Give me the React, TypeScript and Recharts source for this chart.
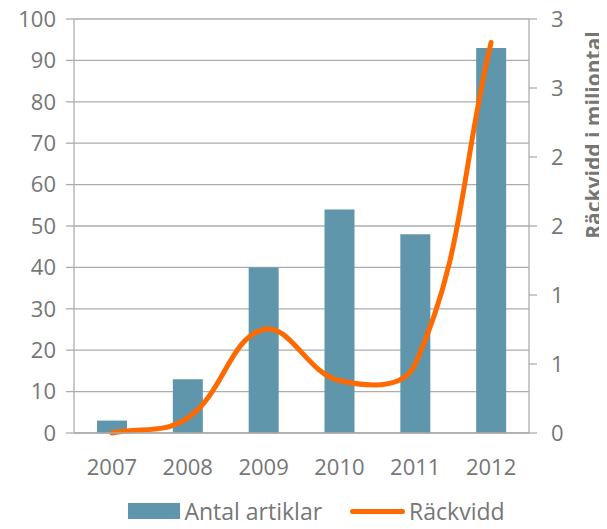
import {
  ComposedChart,
  Bar,
  Line,
  XAxis,
  YAxis,
  CartesianGrid,
  Legend,
} from 'recharts';

const years = ['2007', '2008', '2009', '2010', '2011', '2012'];
const articles = [3, 13, 40, 54, 48, 93];
const reach = [0.0, 0.11, 0.75, 0.38, 0.5, 2.83];

const leftTicks = [0, 10, 20, 30, 40, 50, 60, 70, 80, 90, 100];
const rightTicks = [0, 0.5, 1, 1.5, 2, 2.5, 3];
const edgeTicks = [0, 1, 2, 3, 4, 5, 6];

const data = years.map((year, i) => ({
  year,
  articles: articles[i],
  reach: reach[i],
}));

const FONT = '"Open Sans", sans-serif';
const TEXT = '#767676';
const AXIS = '#adadad';
const BAR = '#5f96ab';
const LINE = '#ff6a00';

const tickStyle = { fill: TEXT, fontSize: 22, fontFamily: FONT };

// smoothed line: bezier handles scaled by neighbouring chord lengths
const SMOOTH = 0.4;
function smoothCurve(context: any) {
  let pts: [number, number][] = [];
  const dist = (a: [number, number], b: [number, number]) => Math.hypot(b[0] - a[0], b[1] - a[1]);
  return {
    areaStart() {},
    areaEnd() {},
    lineStart() {
      pts = [];
    },
    point(x: number, y: number) {
      pts.push([+x, +y]);
    },
    lineEnd() {
      if (!pts.length) return;
      context.moveTo(pts[0][0], pts[0][1]);
      for (let i = 0; i < pts.length - 1; i++) {
        const p0 = pts[Math.max(i - 1, 0)];
        const p1 = pts[i];
        const p2 = pts[i + 1];
        const p3 = pts[Math.min(i + 2, pts.length - 1)];
        const d01 = dist(p0, p1);
        const d12 = dist(p1, p2);
        const d23 = dist(p2, p3);
        const k1 = (SMOOTH * d12) / (d01 + d12 || 1);
        const k2 = (SMOOTH * d12) / (d12 + d23 || 1);
        context.bezierCurveTo(
          p1[0] + k1 * (p2[0] - p0[0]),
          p1[1] + k1 * (p2[1] - p0[1]),
          p2[0] - k2 * (p3[0] - p1[0]),
          p2[1] - k2 * (p3[1] - p1[1]),
          p2[0],
          p2[1],
        );
      }
    },
  };
}

function RightTitle(props: any) {
  const { viewBox } = props;
  const x = viewBox.x + 64;
  const y = viewBox.y + 116;
  return (
    <text
      x={x}
      y={y}
      transform={`rotate(-90, ${x}, ${y})`}
      textAnchor="middle"
      dominantBaseline="central"
      fill={TEXT}
      fontSize={21}
      fontWeight="bold"
      fontFamily={FONT}
    >
      Räckvidd i miljontal
    </text>
  );
}

function LegendContent() {
  return (
    <div
      style={{
        display: 'flex',
        alignItems: 'center',
        justifyContent: 'center',
        fontFamily: FONT,
        fontSize: 23,
        color: TEXT,
        lineHeight: '28px',
        paddingLeft: 26,
      }}
    >
      <span style={{ display: 'inline-block', width: 52, height: 16, background: BAR, marginRight: 4 }} />
      <span>Antal artiklar</span>
      <span
        style={{
          display: 'inline-block',
          width: 55,
          height: 5,
          borderRadius: 3,
          background: LINE,
          marginLeft: 28,
          marginRight: 4,
        }}
      />
      <span>Räckvidd</span>
    </div>
  );
}

export default function App() {
  return (
    <div style={{ margin: -8, width: 607, height: 529, background: '#fff', overflow: 'hidden' }}>
      <ComposedChart
        width={607}
        height={529}
        data={data}
        margin={{ top: 19, right: 0, bottom: 36, left: 0 }}
      >
        <CartesianGrid
          yAxisId="left"
          vertical={false}
          stroke={AXIS}
          strokeWidth={1.3}
        />
        <XAxis
          xAxisId="edges"
          type="number"
          domain={[0, 6]}
          ticks={edgeTicks}
          height={0}
          tick={false}
          tickSize={7}
          axisLine={false}
          tickLine={{ stroke: AXIS, strokeWidth: 1.3 }}
        />
        <XAxis
          xAxisId="cat"
          dataKey="year"
          height={30}
          tickLine={false}
          axisLine={{ stroke: AXIS, strokeWidth: 1.3 }}
          tick={tickStyle}
          dy={18}
        />
        <YAxis
          yAxisId="left"
          width={74}
          domain={[0, 100]}
          ticks={leftTicks}
          tickSize={8}
          tickMargin={10}
          axisLine={{ stroke: AXIS, strokeWidth: 1.3 }}
          tickLine={{ stroke: AXIS, strokeWidth: 1.3 }}
          tick={tickStyle}
          interval={0}
        />
        <YAxis
          yAxisId="right"
          orientation="right"
          width={78}
          domain={[0, 3]}
          ticks={rightTicks}
          tickSize={8}
          tickMargin={14}
          axisLine={{ stroke: AXIS, strokeWidth: 1.3 }}
          tickLine={{ stroke: AXIS, strokeWidth: 1.3 }}
          tick={tickStyle}
          interval={0}
          tickFormatter={(v: number) => Math.round(v).toFixed(0)}
          label={<RightTitle />}
        />
        <Bar
          xAxisId="cat"
          yAxisId="left"
          dataKey="articles"
          name="Antal artiklar"
          fill={BAR}
          barSize={30}
          isAnimationActive={false}
        />
        <Line
          xAxisId="cat"
          yAxisId="right"
          dataKey="reach"
          name="Räckvidd"
          type={smoothCurve as any}
          stroke={LINE}
          strokeWidth={5}
          strokeLinecap="round"
          dot={false}
          isAnimationActive={false}
        />
        <Legend
          content={<LegendContent />}
          wrapperStyle={{ position: 'absolute', left: 0, top: 497, width: 607, height: 30 }}
        />
      </ComposedChart>
    </div>
  );
}
